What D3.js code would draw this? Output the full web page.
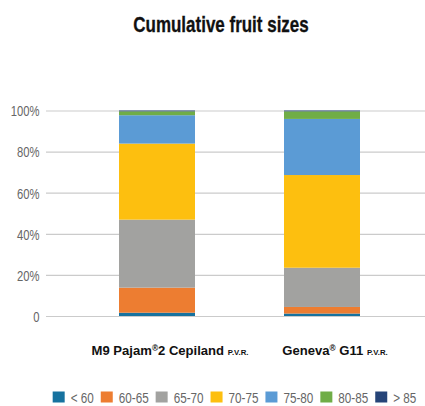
<!DOCTYPE html>
<html>
<head>
<meta charset="utf-8">
<script src="https://cdn.jsdelivr.net/npm/d3@7"></script>
<style>
  html, body { margin: 0; padding: 0; background: #ffffff; }
  svg { display: block; }
</style>
</head>
<body>
<svg id="chart" width="425" height="406"></svg>
<script>
// ---- Data ----
const categories = ["M9 Pajam", "Geneva"];
const categoryMain = ["M9 Pajam", "Geneva"];
const categoryAfterMark = ["2 Cepiland ", " G11 "];
const categorySuffix = ["P.V.R.", "P.V.R."];
const seriesNames = ["< 60", "60-65", "65-70", "70-75", "75-80", "80-85", "> 85"];
const seriesColors = ["#16729f", "#ed7d31", "#a2a2a0", "#fdbf0f", "#5b9bd5", "#70ad47", "#264478"];
// values in percent, per series, for [M9 Pajam, Geneva]
const lt60   = [1.6, 1.2];
const s60_65 = [12.2, 3.2];
const s65_70 = [33.1, 19.1];
const s70_75 = [37.0, 45.1];
const s75_80 = [13.8, 27.3];
const s80_85 = [1.9, 3.7];
const gt85   = [0.4, 0.4];
const seriesValues = [lt60, s60_65, s65_70, s70_75, s75_80, s80_85, gt85];
const yTicks = [0, 20, 40, 60, 80, 100];
const yTickLabels = ["0", "20%", "40%", "60%", "80%", "100%"];
const title = "Cumulative fruit sizes";

// ---- Build table ----
const table = categories.map((c, i) => {
  const row = { cat: c };
  seriesNames.forEach((s, j) => row[s] = seriesValues[j][i]);
  return row;
});
const stacked = d3.stack().keys(seriesNames)(table);

const svg = d3.select("#chart");
const FONT = "'Liberation Sans', Arial, sans-serif";

// condensed text helper: text drawn at (x,y), horizontally scaled by sx
function condensedText(parent, x, y, sx, anchor) {
  const g = parent.append("g").attr("transform", `translate(${x},${y}) scale(${sx},1)`);
  return g.append("text").attr("x", 0).attr("y", 0).attr("text-anchor", anchor || "start")
    .attr("font-family", FONT);
}

// ---- Scales ----
const y = d3.scaleLinear().domain([0, 100]).range([316, 110.5]);
const pi = 0.5394;
const x = d3.scaleBand().domain(categories).range([74.5, 404.5])
  .paddingInner(pi).paddingOuter(pi / 2);

// ---- Title ----
condensedText(svg, 221, 32, 0.79, "middle")
  .attr("font-weight", "bold")
  .attr("font-size", 21.5)
  .attr("fill", "#111")
  .attr("stroke", "#111")
  .attr("stroke-width", 0.3)
  .text(title);

// ---- Gridlines & y axis ----
const yAxis = d3.axisLeft(y).tickValues(yTicks)
  .tickFormat("")
  .tickSize(-(425 - 46));
const ga = svg.append("g").attr("transform", "translate(46,0)").call(yAxis);
ga.select(".domain").remove();
ga.selectAll(".tick line").attr("stroke", "#cbcbcb").attr("stroke-width", 1.2);
ga.selectAll(".tick").each(function(d, i) {
  condensedText(d3.select(this), -6.5, 5.3, 0.75, "end")
    .attr("font-size", 15)
    .attr("fill", "#666")
    .text(yTickLabels[i]);
});

// ---- Bars ----
svg.append("g").selectAll("g").data(stacked).join("g")
  .attr("fill", (d, i) => seriesColors[i])
  .selectAll("rect").data(d => d).join("rect")
  .attr("x", d => x(d.data.cat))
  .attr("width", x.bandwidth())
  .attr("y", d => y(d[1]))
  .attr("height", d => y(d[0]) - y(d[1]));

// ---- Category labels ----
categories.forEach((c, i) => {
  const t = condensedText(svg, x(c) + x.bandwidth() / 2 + 13, 355, 0.97, "middle")
    .attr("font-weight", "bold")
    .attr("font-size", 13.5)
    .attr("fill", "#111");
  t.append("tspan").text(categoryMain[i]);
  t.append("tspan").attr("font-size", 8.5).attr("dy", -4.5).text("®");
  t.append("tspan").attr("dy", 4.5).text(categoryAfterMark[i]);
  t.append("tspan").attr("font-size", 8).text(categorySuffix[i]);
});

// ---- Legend ----
const LSX = 0.78;
const lg = svg.append("g");
let cx = 0;
seriesNames.forEach((s, i) => {
  const item = lg.append("g").attr("transform", `translate(${cx},0)`);
  item.append("rect").attr("x", 0).attr("y", 391.5).attr("width", 12).attr("height", 11)
    .attr("fill", seriesColors[i]);
  const tx = condensedText(item, 18, 403, LSX, "start")
    .attr("font-size", 15).attr("fill", "#666").text(s);
  const w = tx.node().getComputedTextLength() * LSX;
  cx += 12 + 6 + w + 7;
});
const totalW = cx - 7;
lg.attr("transform", `translate(${234.5 - totalW / 2},0)`);
</script>
</body>
</html>
